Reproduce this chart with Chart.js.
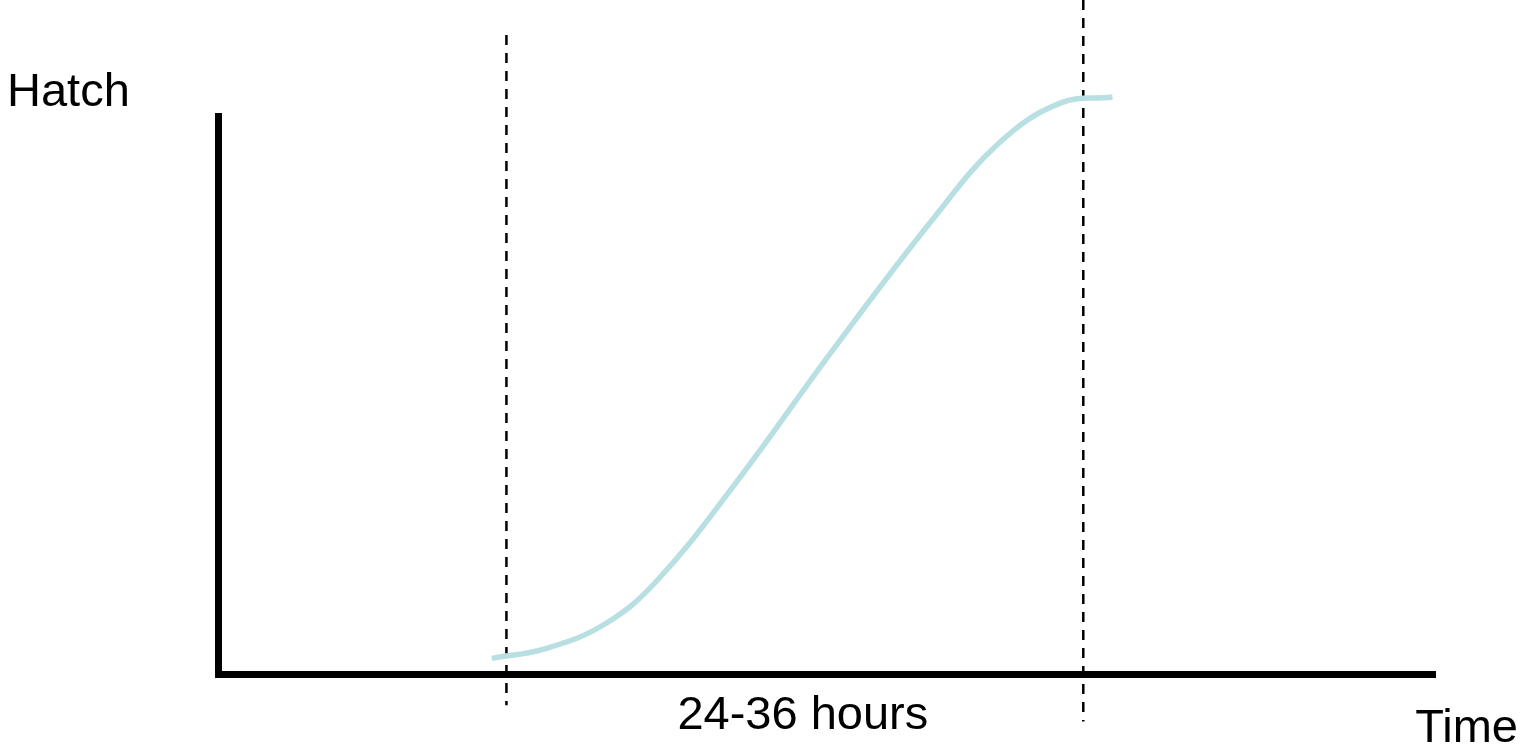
<!DOCTYPE html>
<html>
<head>
<meta charset="utf-8">
<script src="https://cdn.jsdelivr.net/npm/chart.js@4.4.1/dist/chart.umd.min.js"></script>
<style>
    html, body { margin: 0; padding: 0; background: #fff; }
    #wrap { width: 1522px; height: 749px; }
</style>
</head>
<body>
<div id="wrap"><canvas id="hatchChart"></canvas></div>
<script>
// hatch curve (x: time, y: hatch, both 0-100)
const curveX = [22.5, 27.0, 31.9, 36.1, 42.6, 50.5, 58.7, 64.2, 69.2, 73.5];
const curveY = [2.8, 4.6, 9.1, 16.8, 34.4, 58.0, 81.4, 95.2, 102.3, 103.4];

// the 24-36 hour window
const windowStart = 23.7;
const windowEnd = 71.1;
const windowStartY = [114.5, -5.6];
const windowEndY = [120.8, -8.5];

const yLabel = "Hatch";
const xLabel = "Time";
const windowLabel = "24-36 hours";

const labelPlugin = {
    id: "labels",
    afterDraw: function (chart) {
        const ctx = chart.ctx;
        const area = chart.chartArea;
        const x = chart.scales.x;
        ctx.save();
        ctx.fillStyle = "#000";
        ctx.font = "47px 'Liberation Sans', Arial, sans-serif";
        ctx.textBaseline = "alphabetic";
        ctx.textAlign = "left";
        ctx.fillText(yLabel, 7, 106);
        ctx.textAlign = "right";
        ctx.fillText(xLabel, 1518, 742);
        ctx.textAlign = "center";
        ctx.fillText(windowLabel, (x.getPixelForValue(windowStart) + x.getPixelForValue(windowEnd)) / 2 + 8, area.bottom + 55);
        ctx.restore();
    }
};

const hatchChart = document.getElementById("hatchChart").getContext("2d");

new Chart(hatchChart, {
    type: "line",
    data: {
        datasets: [
            {
                label: "Hatch",
                data: curveX.map((v, i) => ({ x: v, y: curveY[i] })),
                borderColor: "#b8e0e2",
                borderWidth: 5.5,
                tension: 0.4,
                pointRadius: 0,
                clip: false,
            },
            {
                label: "start",
                data: windowStartY.map(v => ({ x: windowStart, y: v })),
                borderColor: "#000",
                borderWidth: 2.5,
                borderDash: [10, 8],
                pointRadius: 0,
                clip: false,
            },
            {
                label: "end",
                data: windowEndY.map(v => ({ x: windowEnd, y: v })),
                borderColor: "#000",
                borderWidth: 2.5,
                borderDash: [10, 8],
                pointRadius: 0,
                clip: false,
            },
        ],
    },
    options: {
        responsive: true,
        maintainAspectRatio: false,
        animation: false,
        layout: {
            padding: { left: 218, right: 87, top: 116, bottom: 75 },
        },
        scales: {
            x: {
                type: "linear",
                min: 0,
                max: 100,
                grid: { display: false, drawTicks: false },
                ticks: { display: false },
                border: { display: true, color: "#000", width: 7 },
            },
            y: {
                type: "linear",
                min: 0,
                max: 100,
                grid: { display: false, drawTicks: false },
                ticks: { display: false },
                border: { display: true, color: "#000", width: 7 },
            },
        },
        plugins: {
            legend: { display: false },
            tooltip: { enabled: false },
        },
    },
    plugins: [labelPlugin],
});
</script>
</body>
</html>
